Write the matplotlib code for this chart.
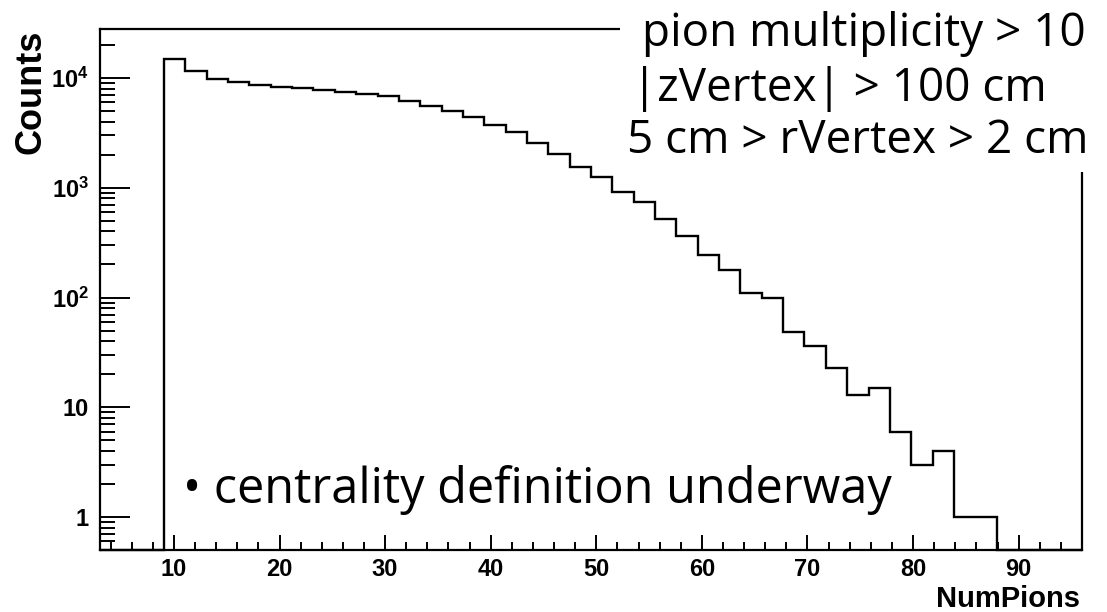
import numpy as np
import matplotlib
matplotlib.use("Agg")
import matplotlib.pyplot as plt
from matplotlib.ticker import FixedLocator, MultipleLocator, LogLocator, NullFormatter
from matplotlib.patches import Rectangle

# ---------------- data ----------------
x_min, x_max, n_bins = 3.0, 96.0, 46
counts = [0, 0, 0,
          14900, 11500, 9900, 9300, 8570, 8280, 8040, 7770, 7390, 7190,
          6800, 6210, 5590, 5060, 4400, 3720, 3210, 2550, 2030, 1560,
          1265, 920, 740, 520, 366, 243, 178, 109, 98, 49,
          36, 23, 13, 15, 6, 3, 4, 1, 1,
          0, 0, 0, 0]
x_ticks = [10, 20, 30, 40, 50, 60, 70, 80, 90]
x_tick_labels = ["10", "20", "30", "40", "50", "60", "70", "80", "90"]
y_ticks = [1, 10, 100, 1000, 10000]
y_tick_labels = ["1", "10", r"$\mathbf{10^{2}}$", r"$\mathbf{10^{3}}$", r"$\mathbf{10^{4}}$"]
y_range = (0.5, 2.8e4)
x_label = "NumPions"
y_label = "Counts"
cut_lines = ["pion multiplicity > 10", "|zVertex| > 100 cm", "5 cm > rVertex > 2 cm"]
note = "\u2022 centrality definition underway"

# ---------------- style ----------------
plt.rcParams["mathtext.fontset"] = "custom"
plt.rcParams["mathtext.rm"] = "Liberation Sans"
plt.rcParams["mathtext.bf"] = "Liberation Sans:bold"
W, H = 1107, 612
fig = plt.figure(figsize=(W / 100, H / 100), dpi=100)
ax = fig.add_axes([100 / W, 1 - 550 / H, 982 / W, 521 / H])

edges = np.linspace(x_min, x_max, n_bins + 1)
vals = np.maximum(np.asarray(counts, dtype=float), y_range[0])
ax.stairs(vals, edges, baseline=None, color="black", linewidth=1.7, clip_on=False)

ax.set_yscale("log")
ax.set_xlim(x_min, x_max)
ax.set_ylim(*y_range)

ax.xaxis.set_major_locator(FixedLocator(x_ticks))
ax.set_xticklabels(x_tick_labels, fontsize=17, fontweight="bold", family="Liberation Sans")
ax.xaxis.set_minor_locator(MultipleLocator(2))
ax.yaxis.set_major_locator(FixedLocator(y_ticks))
ax.set_yticklabels(y_tick_labels, fontsize=17, fontweight="bold", family="Liberation Sans")
ax.yaxis.set_minor_locator(LogLocator(base=10, subs=np.arange(2, 10)))
ax.yaxis.set_minor_formatter(NullFormatter())

for sp in ax.spines.values():
    sp.set_linewidth(1.6)

ax.tick_params(axis="x", which="major", direction="in", length=10.8, width=1.4, pad=6)
ax.tick_params(axis="x", which="minor", direction="in", length=5.6, width=1.4)
ax.tick_params(axis="y", which="major", direction="in", length=21.6, width=1.4, pad=8)
ax.tick_params(axis="y", which="minor", direction="in", length=10.8, width=1.4)

fig.text(31.5 / W, 1 - 30 / H, y_label, rotation=90, ha="center", va="top",
         fontsize=26, fontweight="bold", family="Liberation Sans")
fig.text(1080 / W, 1 - 607 / H, x_label, ha="right", va="baseline",
         fontsize=21, fontweight="bold", family="Liberation Sans")

# white pave covering top-right of the frame
fig.add_artist(Rectangle((620 / W, 1 - 172 / H), 1 - 620 / W, 172 / H,
                         transform=fig.transFigure, facecolor="white",
                         edgecolor="none", zorder=5))
line_x = [642, 632, 627]
line_base = [46, 101, 153]
for t, lx, ly in zip(cut_lines, line_x, line_base):
    fig.text(lx / W, 1 - ly / H, t, ha="left", va="baseline", fontsize=33,
             family="Open Sans", zorder=6)

fig.text(183 / W, 1 - 503 / H, note, ha="left", va="baseline", fontsize=35,
         family="Open Sans", zorder=6)

fig.savefig("out.png", dpi=100)
